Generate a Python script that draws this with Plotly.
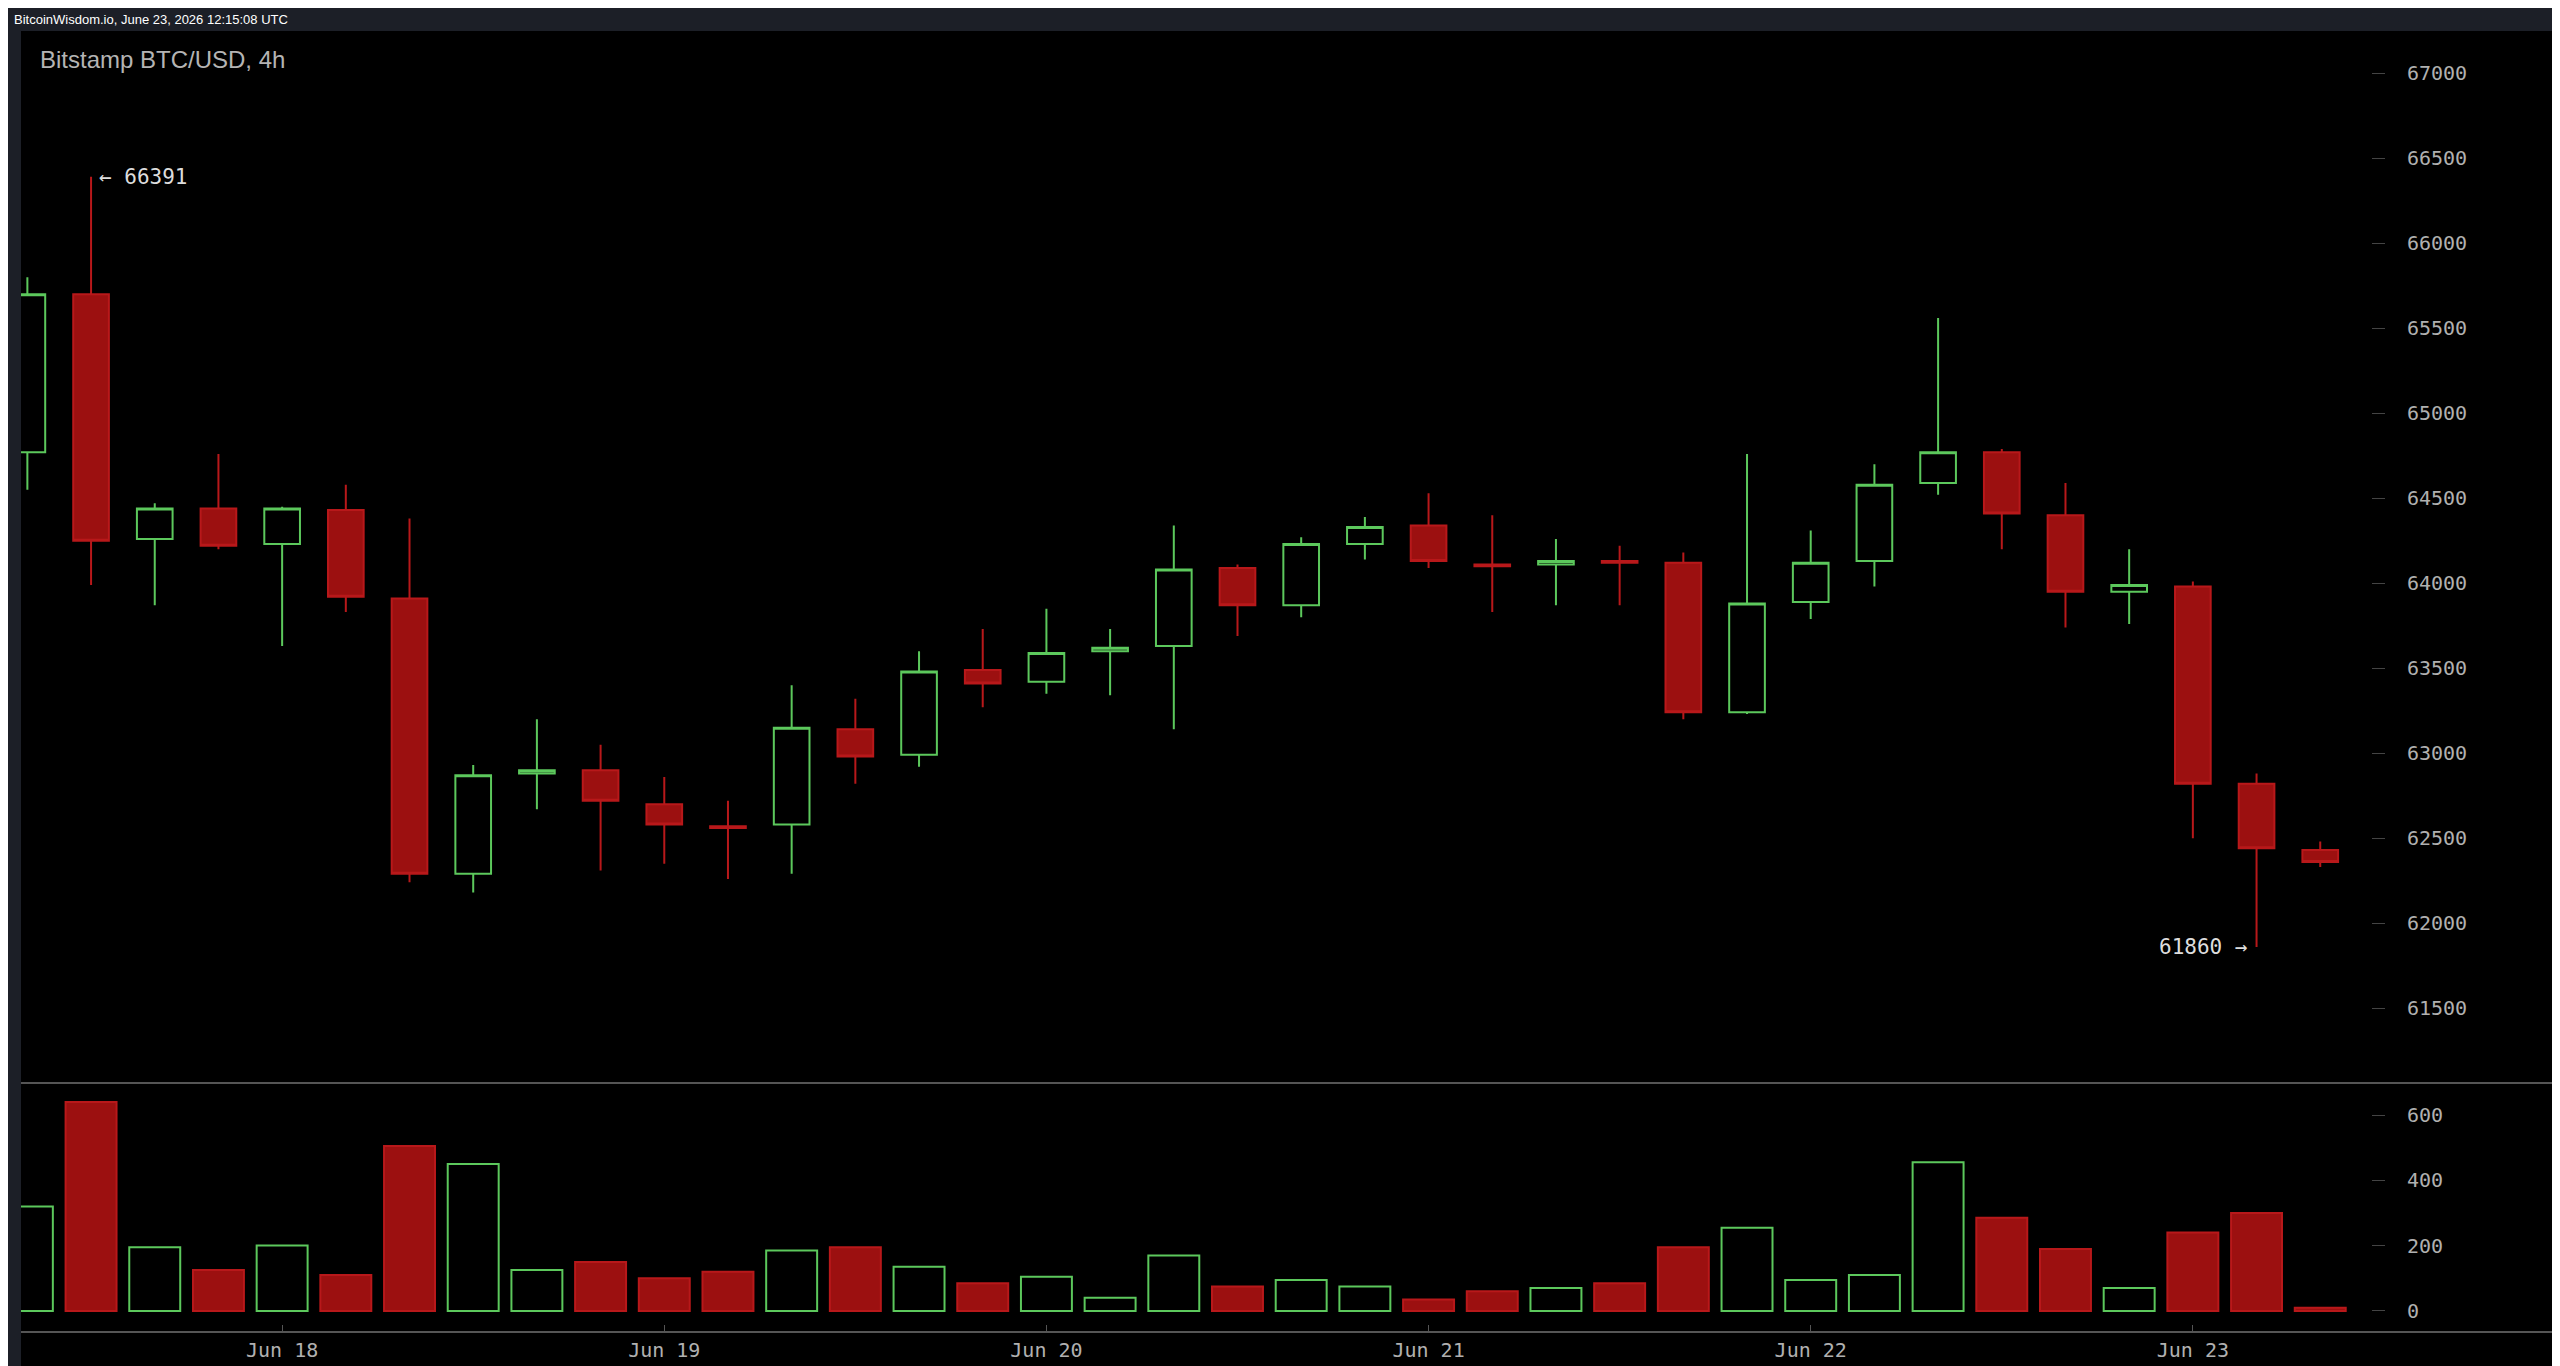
import plotly.graph_objects as go

idx = list(range(37))
opens  = [64770,65700,64260,64440,64230,64430,63910,62290,62880,62900,62700,62570,62580,63140,62990,63490,63420,63600,63630,64090,63870,64230,64340,64110,64110,64130,64120,63240,63890,64130,64590,64770,64400,63950,63980,62820,62430]
highs  = [65800,66391,64470,64760,64450,64580,64380,62930,63200,63050,62860,62720,63400,63320,63600,63730,63850,63730,64340,64110,64270,64390,64530,64400,64260,64220,64180,64760,64310,64700,65560,64790,64590,64200,64010,62880,62480]
lows   = [64550,63990,63870,64200,63630,63830,62240,62180,62670,62310,62350,62260,62290,62820,62920,63270,63350,63340,63140,63690,63800,64140,64090,63830,63870,63870,63200,63230,63790,63980,64520,64200,63740,63760,62500,61860,62330]
closes = [65700,64250,64440,64220,64440,63920,62290,62870,62900,62720,62580,62560,63150,62980,63480,63410,63590,63620,64080,63870,64230,64330,64130,64100,64130,64120,63240,63880,64120,64580,64770,64410,63950,63990,62820,62440,62360]
volumes = [320,640,195,125,200,110,505,450,125,150,100,120,185,195,135,85,105,40,170,75,95,75,35,60,70,85,195,255,95,110,455,285,190,70,240,300,10]
tick_idx = [4,10,16,22,28,34]
tick_labels = ["Jun 18","Jun 19","Jun 20","Jun 21","Jun 22","Jun 23"]
price_ticks = [61500,62000,62500,63000,63500,64000,64500,65000,65500,66000,66500,67000]
vol_ticks = [0,200,400,600]

GREEN = "#5cc85c"
RED_LINE = "#b8181a"
RED_FILL = "#9c1010"

up = [c >= o for o, c in zip(opens, closes)]

fig = go.Figure()
fig.add_trace(go.Candlestick(
    x=idx, open=opens, high=highs, low=lows, close=closes,
    increasing=dict(line=dict(color=GREEN, width=2), fillcolor="#000000"),
    decreasing=dict(line=dict(color=RED_LINE, width=2), fillcolor=RED_FILL),
    whiskerwidth=0, xaxis="x", yaxis="y", showlegend=False, hoverinfo="skip"))
fig.add_trace(go.Bar(
    x=idx, y=volumes, width=0.8,
    marker=dict(color=["#000000" if u else RED_FILL for u in up],
                line=dict(color=[GREEN if u else RED_LINE for u in up], width=2)),
    xaxis="x2", yaxis="y2", showlegend=False, hoverinfo="skip"))

xr = [-0.1, 39.89]
xdom = [13/2560, 1]
sep = 0.213
tickfont = dict(family="DejaVu Sans Mono", size=20, color="#b0b0b0")
fig.update_layout(
    width=2560, height=1366, margin=dict(l=0, r=0, t=0, b=0),
    paper_bgcolor="#000000", plot_bgcolor="#000000", boxgap=0.2,
    xaxis=dict(domain=xdom, range=xr, anchor="y", showticklabels=False, showgrid=False,
               zeroline=False, rangeslider=dict(visible=False), ticks=""),
    xaxis2=dict(domain=xdom, range=xr, anchor="y2", matches="x", tickvals=tick_idx, ticktext=tick_labels,
                tickfont=tickfont, showgrid=False, zeroline=False, ticks="inside", ticklen=6,
                tickcolor="#555", showline=True, linecolor="#555", linewidth=2),
    yaxis=dict(domain=[sep, 0.988], range=[61059, 67288], anchor="free", position=0.923, side="right",
               tickvals=price_ticks, tickformat="d", tickfont=tickfont, showgrid=False, zeroline=False,
               ticks="outside", ticklen=13, tickcolor="#444", ticklabelstandoff=18),
    yaxis2=dict(domain=[0.0316, sep], range=[-61, 698], anchor="free", position=0.923, side="right",
                tickvals=vol_ticks, tickformat="d", tickfont=tickfont, showgrid=False, zeroline=False,
                ticks="outside", ticklen=13, tickcolor="#444", ticklabelstandoff=18),
    shapes=[
        dict(type="rect", xref="paper", yref="paper", x0=0, x1=1, y0=1-23/1366, y1=1,
             fillcolor="#1c1f27", line=dict(width=0), layer="below"),
        dict(type="rect", xref="paper", yref="paper", x0=0, x1=13/2560, y0=0, y1=1,
             fillcolor="#1c1f27", line=dict(width=0), layer="below"),
        dict(type="rect", xref="paper", yref="paper", x0=0, x1=1, y0=0, y1=6/1366,
             fillcolor="#1c1f27", line=dict(width=0), layer="below"),
        dict(type="line", xref="paper", yref="paper", x0=13/2560, x1=1, y0=sep, y1=sep,
             line=dict(color="#555", width=2)),
    ],
    annotations=[
        dict(text="BitcoinWisdom.io, June 23, 2026 12:15:08 UTC", xref="paper", yref="paper",
             x=4/2560, y=1-2/1366, xanchor="left", yanchor="top", showarrow=False,
             font=dict(family="Liberation Sans", size=13, color="#ffffff")),
        dict(text="Bitstamp BTC/USD, 4h", xref="paper", yref="paper",
             x=30/2560, y=1-36/1366, xanchor="left", yanchor="top", showarrow=False,
             font=dict(family="Liberation Sans", size=24, color="#b4b4b4")),
        dict(text="← " + str(highs[1]), x=idx[1] + 0.1, y=highs[1], xref="x", yref="y",
             xanchor="left", yanchor="middle", showarrow=False,
             font=dict(family="DejaVu Sans Mono", size=21, color="#dddddd")),
        dict(text=str(lows[35]) + " →", x=idx[35] - 0.1, y=lows[35], xref="x", yref="y",
             xanchor="right", yanchor="middle", showarrow=False,
             font=dict(family="DejaVu Sans Mono", size=21, color="#dddddd")),
    ],
)
fig.write_html("out.html")
